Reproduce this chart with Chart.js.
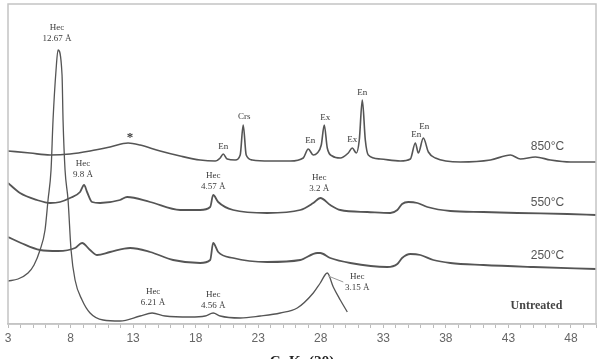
<!DOCTYPE html>
<html lang="en">
<head>
    <meta charset="UTF-8">
    <title>XRD patterns</title>
    <script src="https://cdn.jsdelivr.net/npm/chart.js"></script>
    <style>
        html, body {
            margin: 0;
            padding: 0;
            background: #fff;
        }

        .chart-container {
            width: 601px;
            height: 359px;
        }
    </style>
</head>
<body>
    <div class="chart-container">
        <canvas id="xrd-chart"></canvas>
    </div>

    <script>
        // 2-theta positions and intensities (arbitrary units)
        const theta850 = [3.00, 4.76, 6.36, 7.96, 9.56, 11.16, 12.60, 13.56, 15.16, 16.76, 18.36, 19.56, 19.96, 20.20, 20.52, 21.16, 21.56, 21.80, 22.04, 22.52, 23.96, 25.56, 26.60, 27.00, 27.40, 27.72, 28.04, 28.28, 28.52, 28.92, 29.56, 30.20, 30.52, 30.84, 31.08, 31.32, 31.56, 31.80, 32.76, 34.36, 35.16, 35.56, 35.80, 36.20, 36.60, 37.16, 39.16, 41.56, 43.16, 43.96, 45.16, 46.36, 47.96, 50.00];
        const int850 = [173, 171, 169, 170, 173, 177, 181, 179, 173, 168, 164, 163, 166, 170, 165, 164, 169, 199, 169, 164, 163, 163, 166, 175, 169, 171, 179, 199, 176, 168, 166, 171, 176, 171, 184, 224, 184, 169, 165, 163, 165, 181, 171, 186, 172, 166, 162, 164, 169, 165, 167, 164, 162, 162];

        const theta550 = [3.00, 3.96, 5.32, 6.36, 7.16, 7.96, 8.76, 9.08, 9.32, 9.72, 10.36, 11.96, 12.52, 14.36, 16.76, 18.36, 19.16, 19.40, 19.80, 21.00, 23.72, 26.36, 27.40, 27.96, 28.76, 29.56, 31.72, 33.56, 34.12, 34.50, 35.00, 35.72, 36.52, 38.36, 41.00, 43.72, 47.72, 50.00];
        const int550 = [141, 131, 124, 121, 122, 126, 132, 139, 132, 122, 121, 124, 127, 122, 114, 114, 117, 129, 122, 114, 111, 114, 121, 126, 119, 114, 112, 111, 114, 120, 122, 121, 117, 113, 112, 111, 110, 109];

        const theta250 = [3.00, 4.04, 5.56, 7.00, 8.36, 8.92, 9.56, 10.12, 11.16, 12.76, 14.36, 16.20, 18.36, 19.16, 19.40, 19.80, 21.00, 23.72, 26.36, 27.72, 27.96, 28.76, 30.36, 33.32, 34.12, 34.50, 35.16, 35.96, 37.00, 38.36, 41.00, 45.00, 50.00];
        const int250 = [87, 81, 74, 73, 76, 81, 74, 69, 72, 76, 72, 64, 61, 64, 81, 72, 66, 62, 64, 71, 71, 66, 61, 57, 60, 66, 70, 69, 64, 61, 59, 57, 55];

        const thetaRaw = [3.00, 3.80, 4.60, 5.08, 5.56, 5.96, 6.20, 6.44, 6.60, 6.84, 7.00, 7.32, 7.40, 7.56, 7.80, 8.04, 8.36, 8.92, 9.56, 10.60, 11.96, 13.56, 14.52, 15.56, 17.56, 18.76, 19.40, 19.96, 21.56, 23.16, 24.76, 26.12, 27.40, 27.96, 28.52, 29.00, 29.56, 30.12];
        const intRaw = [43, 45, 51, 59, 74, 94, 124, 154, 204, 254, 274, 249, 204, 154, 124, 74, 44, 24, 11, 4, 3, 8, 11, 8, 7, 8, 11, 8, 6, 8, 11, 16, 31, 41, 51, 37, 24, 12];

        // x axis ticks: every degree, labelled every 5
        const xTicks = [];
        for (let v = 3; v <= 50; v++) xTicks.push(v);
        const xLabelled = [3, 8, 13, 18, 23, 28, 33, 38, 43, 48];

        // peak labels (text lines, 2-theta, intensity)
        const peakLabels = [
            { lines: ['Hec', '12.67 Å'], x: 6.92, y: 296 },
            { lines: ['Hec', '9.8 Å'], x: 9.0, y: 160 },
            { lines: ['En'], x: 20.2, y: 177 },
            { lines: ['Crs'], x: 21.88, y: 207 },
            { lines: ['En'], x: 27.16, y: 183 },
            { lines: ['Ex'], x: 28.36, y: 206 },
            { lines: ['Ex'], x: 30.52, y: 184 },
            { lines: ['En'], x: 31.32, y: 231 },
            { lines: ['En'], x: 35.64, y: 189 },
            { lines: ['En'], x: 36.28, y: 197 },
            { lines: ['Hec', '4.57 Å'], x: 19.4, y: 148 },
            { lines: ['Hec', '3.2 Å'], x: 27.88, y: 146 },
            { lines: ['Hec', '6.21 Å'], x: 14.6, y: 32 },
            { lines: ['Hec', '4.56 Å'], x: 19.4, y: 29 },
            { lines: ['Hec', '3.15 Å'], x: 30.92, y: 47 }
        ];
        const starLabel = { text: '*', x: 12.76, y: 186 };

        // sample names at the right of each trace
        const sampleLabels = [
            { text: '850°C', x: 46.12, y: 177 },
            { text: '550°C', x: 46.12, y: 121 },
            { text: '250°C', x: 46.12, y: 68 }
        ];
        const untreatedLabel = { text: 'Untreated', x: 45.24, y: 18 };

        // leader line from the 3.15 Å peak to its label
        const leader = [[28.6, 48], [29.8, 42]];

        function toPoints(xs, ys) {
            return xs.map((x, i) => ({ x: x, y: ys[i] }));
        }

        // frame round the plot area + all the text labels
        const annotate = {
            id: 'annotate',
            afterDatasetsDraw(chart) {
                const { ctx, chartArea, scales } = chart;
                const xs = scales.x, ys = scales.y;
                ctx.save();

                ctx.strokeStyle = '#c4c4c4';
                ctx.lineWidth = 1.5;
                ctx.strokeRect(chartArea.left, chartArea.top, chartArea.right - chartArea.left, chartArea.bottom - chartArea.top);

                ctx.fillStyle = '#3a3a3a';
                ctx.textAlign = 'center';
                ctx.textBaseline = 'middle';
                ctx.font = '9px "Liberation Serif", serif';
                peakLabels.forEach(l => {
                    const px = xs.getPixelForValue(l.x);
                    const py = ys.getPixelForValue(l.y);
                    l.lines.forEach((t, i) => ctx.fillText(t, px, py + i * 10.5));
                });

                ctx.font = 'bold 13px "Liberation Serif", serif';
                ctx.fillText(starLabel.text, xs.getPixelForValue(starLabel.x), ys.getPixelForValue(starLabel.y));

                ctx.strokeStyle = '#999';
                ctx.lineWidth = 1;
                ctx.beginPath();
                ctx.moveTo(xs.getPixelForValue(leader[0][0]), ys.getPixelForValue(leader[0][1]));
                ctx.lineTo(xs.getPixelForValue(leader[1][0]), ys.getPixelForValue(leader[1][1]));
                ctx.stroke();

                ctx.fillStyle = '#555';
                ctx.font = '12px "Liberation Sans", Arial, sans-serif';
                sampleLabels.forEach(l => {
                    ctx.fillText(l.text, xs.getPixelForValue(l.x), ys.getPixelForValue(l.y));
                });

                ctx.fillStyle = '#444';
                ctx.font = 'bold 12px "Liberation Serif", serif';
                ctx.fillText(untreatedLabel.text, xs.getPixelForValue(untreatedLabel.x), ys.getPixelForValue(untreatedLabel.y));

                ctx.restore();
            }
        };

        function traceStyle(points, width) {
            return {
                data: points,
                borderColor: '#555',
                borderWidth: width,
                pointRadius: 0,
                cubicInterpolationMode: 'monotone',
                fill: false
            };
        }

        const ctx = document.getElementById('xrd-chart').getContext('2d');
        new Chart(ctx, {
            type: 'line',
            data: {
                datasets: [
                    Object.assign({ label: '850°C' }, traceStyle(toPoints(theta850, int850), 1.6)),
                    Object.assign({ label: '550°C' }, traceStyle(toPoints(theta550, int550), 1.8)),
                    Object.assign({ label: '250°C' }, traceStyle(toPoints(theta250, int250), 1.8)),
                    Object.assign({ label: 'Untreated' }, traceStyle(toPoints(thetaRaw, intRaw), 1.3))
                ]
            },
            options: {
                responsive: true,
                maintainAspectRatio: false,
                animation: false,
                layout: { padding: { left: 8, right: 5, top: 4, bottom: 0 } },
                plugins: {
                    legend: { display: false },
                    tooltip: { enabled: false }
                },
                scales: {
                    x: {
                        type: 'linear',
                        min: 3,
                        max: 50,
                        afterBuildTicks: scale => {
                            scale.ticks = xTicks.map(v => ({ value: v }));
                        },
                        afterFit: scale => {
                            scale.height = 35;
                        },
                        ticks: {
                            autoSkip: false,
                            maxRotation: 0,
                            padding: 3,
                            color: '#666',
                            font: { family: '"Liberation Sans", Arial, sans-serif', size: 12 },
                            callback: v => (xLabelled.includes(v) ? String(v) : '')
                        },
                        grid: {
                            drawOnChartArea: false,
                            tickLength: 4,
                            tickColor: '#bbb'
                        },
                        border: { color: '#c4c4c4', width: 1.5 },
                        title: {
                            display: true,
                            text: 'CuKα(2θ)',
                            color: '#222',
                            font: { family: '"Liberation Serif", serif', size: 15, weight: 'bold' },
                            padding: { top: 0, bottom: -12 }
                        }
                    },
                    y: {
                        display: false,
                        min: 0,
                        max: 320
                    }
                }
            },
            plugins: [annotate]
        });
    </script>
</body>
</html>
